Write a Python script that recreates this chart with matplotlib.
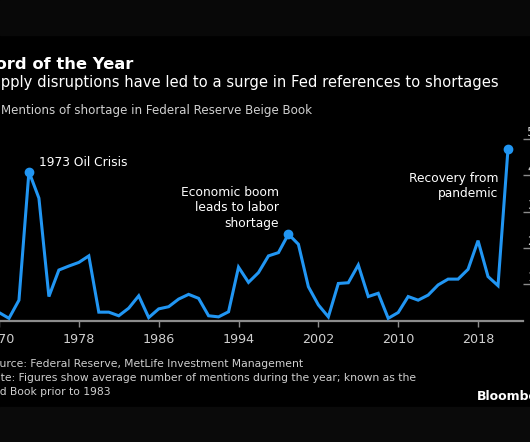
import numpy as np
import matplotlib.pyplot as plt
from matplotlib.patches import Rectangle

plt.rcParams.update({
    'font.family': ['DejaVu Sans'],
    'font.size': 9,
})

# data (average mentions per year)
years = list(range(1970, 2022))
mentions = [0.22, 0.06, 0.56, 4.10, 3.37, 0.66, 1.39, 1.50, 1.60, 1.78,
            0.23, 0.23, 0.13, 0.34, 0.68, 0.08, 0.32, 0.38, 0.59, 0.72,
            0.61, 0.13, 0.10, 0.24, 1.47, 1.05, 1.32, 1.78, 1.87, 2.38,
            2.10, 0.93, 0.43, 0.10, 1.02, 1.04, 1.53, 0.66, 0.75, 0.06,
            0.22, 0.66, 0.56, 0.70, 0.98, 1.14, 1.14, 1.41, 2.20, 1.21,
            0.96, 4.72]
marked_years = [1973, 1999, 2021]
xtick_years = [1970, 1978, 1986, 1994, 2002, 2010, 2018]
ytick_vals = [1, 2, 3, 4, 5]

notes = [
    ('1973 Oil Crisis', 1974.0, 4.34, 'left'),
    ('Economic boom\nleads to labor\nshortage', 1998.06, 3.10, 'right'),
    ('Recovery from\npandemic', 2020.07, 3.70, 'right'),
]

title = 'Word of the Year'
subtitle = 'Supply disruptions have led to a surge in Fed references to shortages'
series_label = 'Mentions of shortage in Federal Reserve Beige Book'
footer = ['Source: Federal Reserve, MetLife Investment Management',
          'Note: Figures show average number of mentions during the year; known as the',
          'Red Book prior to 1983']

W, H = 530, 442
BLUE = '#2196f3'
GRAY = '#8c8c8c'
TXT = '#d0d0d0'


def fx(px):
    return px / W


def fy(py):
    return 1 - py / H


fig = plt.figure(figsize=(W / 100, H / 100), dpi=100)
fig.patch.set_facecolor('black')
# top and bottom bands are a touch lighter than the chart body
fig.patches.append(Rectangle((0, fy(35)), 1, 35 / H, transform=fig.transFigure,
                             color='#080808', zorder=0))
fig.patches.append(Rectangle((0, 0), 1, (H - 407) / H, transform=fig.transFigure,
                             color='#0a0a0a', zorder=0))

# axes placed so that the crop of the original layout is reproduced
x0, x1 = 1967.0, 2022.5
px_per_year = 9.98
ax_left = -1 + (x0 - 1970) * px_per_year
ax_w = (x1 - x0) * px_per_year
y_top, y_max = 320.5, 5.5
px_per_unit = 36.3
ax_h = y_max * px_per_unit
ax = fig.add_axes([fx(ax_left), 1 - y_top / H, ax_w / W, ax_h / H])
ax.set_facecolor('none')
ax.set_xlim(x0, x1)
ax.set_ylim(0, y_max)

for s in ['top', 'left', 'right']:
    ax.spines[s].set_visible(False)
ax.spines['bottom'].set_color(GRAY)
ax.spines['bottom'].set_linewidth(1.6)

ax.plot(years, mentions, color=BLUE, lw=2.2, solid_joinstyle='miter', clip_on=False, zorder=3)
mk = [mentions[years.index(y)] for y in marked_years]
ax.plot(marked_years, mk, 'o', color=BLUE, ms=6, clip_on=False, zorder=4)

ax.set_xticks(xtick_years)
ax.set_xticklabels([str(y) for y in xtick_years])
ax.tick_params(axis='x', colors=GRAY, length=4, width=1, labelcolor=TXT,
               labelsize=9.2, pad=5)

ax.yaxis.tick_right()
ax.set_yticks(ytick_vals)
ax.set_yticklabels([str(v) for v in ytick_vals])
ax.tick_params(axis='y', colors=GRAY, length=5, width=1, labelcolor=TXT,
               labelsize=9.2, pad=-2)
for lab in ax.get_yticklabels():
    lab.set_va('bottom')

for txt, xv, yv, ha in notes:
    ax.text(xv, yv, txt, color='white', fontsize=8.8, ha=ha, va='center',
            multialignment=ha, linespacing=1.25)

fig.text(fx(-22), fy(69), title, color='white', fontsize=11.8, fontweight='bold',
         va='baseline')
fig.text(fx(-17.5), fy(86.5), subtitle, color='white', fontsize=10.65, va='baseline')
fig.text(fx(1), fy(114), series_label, color=TXT, fontsize=8.6, va='baseline')

for i, line in enumerate(footer):
    fig.text(fx(-13.5), fy(367.3 + 13.7 * i), line, color=TXT, fontsize=7.75, va='baseline')

fig.text(fx(477), fy(400), 'Bloomberg', color='white', fontsize=9, fontweight='bold',
         va='baseline')

fig.savefig('out.png', dpi=100, facecolor=fig.get_facecolor())
